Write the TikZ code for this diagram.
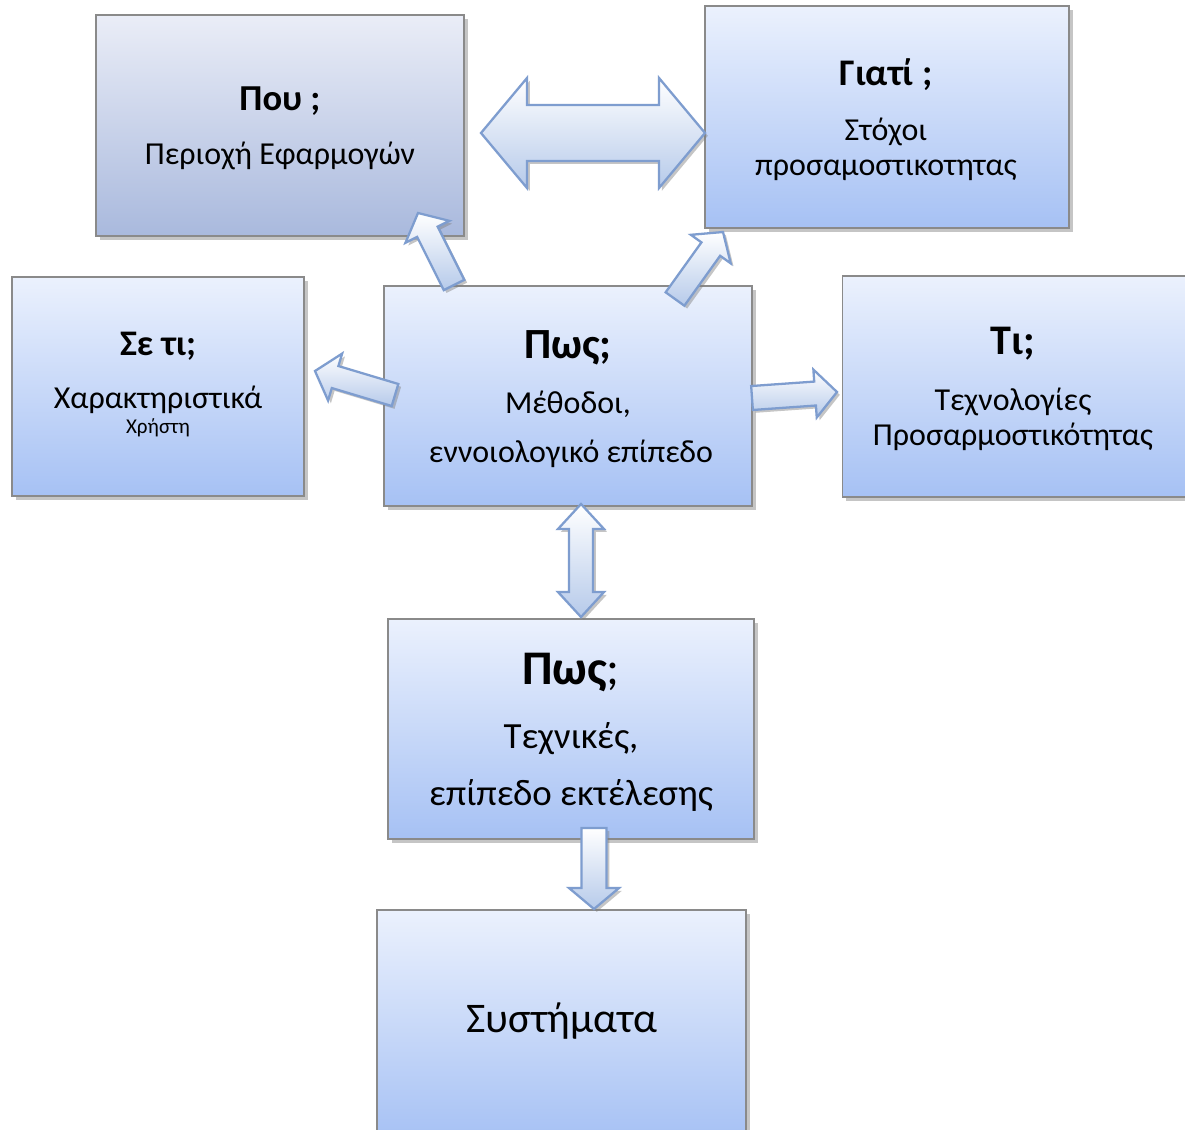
\documentclass[tikz,border=0pt]{standalone}
\usepackage{fontspec}
\setmainfont{Carlito}
\usetikzlibrary{calc,shadows}
\definecolor{boxtop}{HTML}{EBF1FD}
\definecolor{boxbot}{HTML}{A6C1F4}
\definecolor{gboxtop}{HTML}{EAEDF7}
\definecolor{gboxbot}{HTML}{A9B9DD}
\definecolor{boxline}{HTML}{8A8A8A}
\definecolor{arrline}{HTML}{7E9DCF}
\definecolor{arrbot}{HTML}{B6CAEA}
\tikzset{
  box/.style={draw=boxline, line width=0.7pt, rectangle, inner sep=0pt,
    top color=boxtop, bottom color=boxbot,
    drop shadow={shadow xshift=2.2pt, shadow yshift=-2.2pt, opacity=0.45}},
  graybox/.style={box, top color=gboxtop, bottom color=gboxbot},
  fat/.style={draw=arrline, line width=1.3pt, line join=miter,
    top color=white, bottom color=arrbot,
    drop shadow={shadow xshift=1.6pt, shadow yshift=-1.6pt, opacity=0.45}},
  hd/.style={anchor=base, inner sep=0pt, font=\bfseries\fontsize{#1}{#1}\selectfont},
  bd/.style={anchor=base, inner sep=0pt, font=\fontsize{#1}{#1}\selectfont},
}
% single fat arrow: tail, tip, shaft half width, head half width, head length
\newcommand\fatarrow[5]{%
  \coordinate (hb) at ($(#2)!#5!(#1)$);
  \path[fat] ($(#1)!#3!90:(#2)$) -- ($(hb)!#3!90:(#2)$) -- ($(hb)!#4!90:(#2)$)
    -- (#2) -- ($(hb)!#4!-90:(#2)$) -- ($(hb)!#3!-90:(#2)$)
    -- ($(#1)!#3!-90:(#2)$) -- cycle;}
% double fat arrow
\newcommand\fatdarrow[5]{%
  \coordinate (hba) at ($(#1)!#5!(#2)$);
  \coordinate (hbb) at ($(#2)!#5!(#1)$);
  \path[fat] ($(hba)!#3!90:(#2)$) -- ($(hbb)!#3!90:(#2)$) -- ($(hbb)!#4!90:(#2)$)
    -- (#2) -- ($(hbb)!#4!-90:(#2)$) -- ($(hbb)!#3!-90:(#2)$)
    -- ($(hba)!#3!-90:(#2)$) -- ($(hba)!#4!-90:(#2)$) -- (#1)
    -- ($(hba)!#4!90:(#2)$) -- cycle;}
\begin{document}
\begin{tikzpicture}[x=0.02cm, y=-0.02cm]
\useasboundingbox (0,0) rectangle (1185,1129);
\clip (0,0) rectangle (1185,1129);
\fill[white] (0,0) rectangle (1185,1129);

% boxes
\node[graybox, minimum width=7.36cm, minimum height=4.42cm] (pou) at (280,125.5) {};
\node[box, minimum width=7.28cm, minimum height=4.44cm] (giati) at (887,117) {};
\node[box, minimum width=5.84cm, minimum height=4.38cm] (seti) at (158,386.5) {};
\node[box, minimum width=7.36cm, minimum height=4.40cm] (pos1) at (568,396) {};
\node[box, minimum width=6.86cm, minimum height=4.42cm] (ti) at (1014,386.5) {};
\node[box, minimum width=7.32cm, minimum height=4.40cm] (pos2) at (571,729) {};
\node[box, minimum width=7.38cm, minimum height=4.60cm] (syst) at (561.5,1025) {};

% texts
\node[hd=20.8] (pou1) at (280,110) {Που ;};
\node[bd=18.2] (pou2) at (280,164) {Περιοχή Εφαρμογών};

\node[hd=21.4] (giati1) at (886,85) {Γιατί ;};
\node[bd=18.2] (giati2) at (886,140) {Στόχοι};
\node[bd=18.2] (giati3) at (886,175) {προσαμοστικοτητας};

\node[hd=20.5] (seti1) at (158,355) {Σε τι;};
\node[bd=18.2] (seti2) at (158,408) {Χαρακτηριστικά};
\node[bd=12] (seti3) at (158,433) {Χρήστη};

\node[hd=24.5] (pos11) at (568,358) {Πως;};
\node[bd=18.2] (pos12) at (568,413) {Μέθοδοι,};
\node[bd=18.2] (pos13) at (571,462) {εννοιολογικό επίπεδο};

\node[hd=24] (ti1) at (1013,354) {Τι;};
\node[bd=18.2] (ti2) at (1013,410) {Τεχνολογίες};
\node[bd=18.2] (ti3) at (1013,445) {Προσαρμοστικότητας};

\node[anchor=base, inner sep=0pt, font=\fontsize{27.5}{27.5}\selectfont] (pos21) at (571,684) {\textbf{Πως};};
\node[bd=21] (pos22) at (571,748) {Τεχνικές,};
\node[bd=21] (pos23) at (571,805) {επίπεδο εκτέλεσης};

\node[bd=24] (syst1) at (562,1032) {Συστήματα};

% arrow end points
\coordinate (dA) at (481,133);
\coordinate (dB) at (705,133);
\coordinate (pt1) at (454,285);
\coordinate (ph1) at (418,213);
\coordinate (gt1) at (675,299);
\coordinate (gh1) at (723,232);
\coordinate (st1) at (395,395);
\coordinate (sh1) at (315,371);
\coordinate (tt1) at (752,398);
\coordinate (th1) at (837,392);
\coordinate (vA) at (581,504);
\coordinate (vB) at (581,617);
\coordinate (ct1) at (594,828);
\coordinate (ch1) at (594,909);

% arrows
\fatdarrow{dA}{dB}{0.56cm}{1.10cm}{0.92cm}
\fatarrow{pt1}{ph1}{0.23cm}{0.49cm}{0.42cm}
\fatarrow{gt1}{gh1}{0.23cm}{0.49cm}{0.42cm}
\fatarrow{st1}{sh1}{0.23cm}{0.49cm}{0.42cm}
\fatarrow{tt1}{th1}{0.24cm}{0.48cm}{0.44cm}
\fatdarrow{vA}{vB}{0.24cm}{0.46cm}{0.50cm}
\fatarrow{ct1}{ch1}{0.25cm}{0.50cm}{0.42cm}
\end{tikzpicture}
\end{document}
